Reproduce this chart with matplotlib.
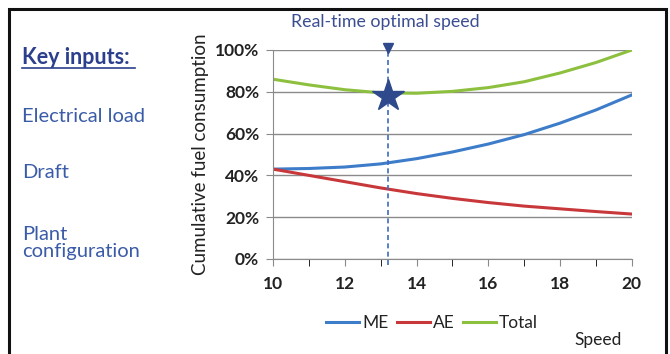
import matplotlib
matplotlib.use("Agg")
import matplotlib.pyplot as plt
from matplotlib.patches import Rectangle
from matplotlib.ticker import FuncFormatter, MultipleLocator

speed = [10, 11, 12, 13, 14, 15, 16, 17, 18, 19, 20]
me = [43, 43.3, 44, 45.5, 48, 51.2, 55, 59.5, 65, 71.3, 78.5]
ae = [43, 40, 37, 34, 31.3, 29, 27, 25.3, 24, 22.7, 21.5]
total = [m + a for m, a in zip(me, ae)]
optimal_speed = 13.2
optimal_total = 78
key_inputs = ["Electrical load", "Draft", "Plant\nconfiguration"]

plt.rcParams['font.family'] = ['Lato', 'DejaVu Sans']

fig = plt.figure(figsize=(6.7, 3.54), dpi=100)
ax = fig.add_axes([0.4075, 0.2684, 0.5355, 0.5904])

c_me, c_ae, c_tot = '#3d7cc9', '#c8383a', '#8dc03e'
ax.plot(speed, me, color=c_me, lw=2.2, label='ME')
ax.plot(speed, ae, color=c_ae, lw=2.2, label='AE')
ax.plot(speed, total, color=c_tot, lw=2.2, label='Total')

ax.set_xlim(10, 20)
ax.set_ylim(0, 100)
ax.yaxis.set_major_locator(MultipleLocator(20))
ax.xaxis.set_major_locator(MultipleLocator(2))
ax.xaxis.set_minor_locator(MultipleLocator(1))
ax.yaxis.set_major_formatter(FuncFormatter(lambda v, p: f"{v:.0f}%"))
ax.grid(axis='y', color='#8a8a8a', lw=1.0)
ax.set_axisbelow(True)
for s in ['top', 'right']:
    ax.spines[s].set_visible(False)
for s in ['left', 'bottom']:
    ax.spines[s].set_color('#8a8a8a')
ax.tick_params(axis='both', colors='#8a8a8a', labelcolor='#222222', labelsize=12.5)
ax.tick_params(axis='x', which='both', length=5, pad=7)
ax.tick_params(axis='y', length=5, pad=5)
for lbl in ax.get_xticklabels() + ax.get_yticklabels():
    lbl.set_fontweight('bold')

# optimal speed marker
ax.plot([optimal_speed, optimal_speed], [-3, 101], color='#3d6cc0', lw=1.2,
        ls=(0, (3, 2)), clip_on=False, zorder=4)
ax.plot([optimal_speed], [101], marker='v', color='#2e4a8c', ms=7, clip_on=False, zorder=5)
ax.plot([optimal_speed], [optimal_total], marker='*', color='#2e4a8c', ms=24, zorder=6)
fig.text(385/670, 1 - 22/354, "Real-time optimal speed", color='#3c4e92',
         fontsize=12.8, ha='center', va='center')

ax.set_ylabel("Cumulative fuel consumption", fontsize=13.5, color='#222222', labelpad=4)

leg = fig.legend(loc='center', bbox_to_anchor=(432/670, 1 - 323/354), ncol=3,
                 frameon=False, fontsize=12.5, handlelength=1.9, columnspacing=0.5,
                 handletextpad=0.15)
for t in leg.get_texts():
    t.set_color('#222222')
fig.text(598/670, 1 - 340/354, "Speed", fontsize=12.5, color='#222222',
         ha='center', va='center')

# left key inputs
fig.text(22/670, 1 - 57/354, "Key inputs:", fontsize=15.5, fontweight='bold',
         color='#2b3f8c', va='center', ha='left')
fig.add_artist(plt.Line2D([22/670, 135/670], [1 - 68/354, 1 - 68/354],
                          color='#2b3f8c', lw=1.2))
ys = [116, 173, 243]
for txt, y in zip(key_inputs, ys):
    fig.text(22/670, 1 - y/354, txt, fontsize=14.5, color='#3a5ca8',
             va='center', ha='left', linespacing=1.05)

fig.add_artist(Rectangle((9/670, -0.1), 657/670, 1.1 - 9/354, transform=fig.transFigure,
                         fill=False, edgecolor='#111111', lw=2.2))

fig.savefig("out.png", dpi=100)
